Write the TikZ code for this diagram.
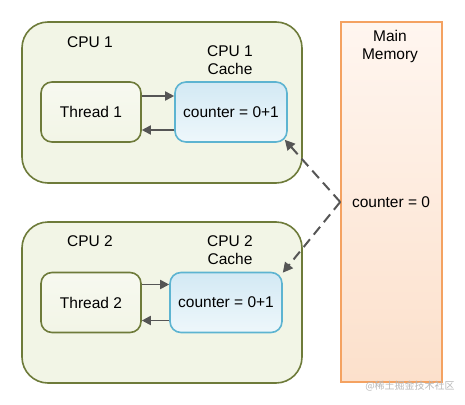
\documentclass[tikz,border=0pt]{standalone}
\usepackage{fontspec}
\setmainfont{Liberation Sans}
\newfontfamily\cjk{Noto Sans CJK SC}
\usetikzlibrary{arrows.meta,positioning,shapes}

\definecolor{cpuline}{HTML}{6E7B3A}
\definecolor{cpufill}{HTML}{F2F5E6}
\definecolor{cacheline}{HTML}{5DB4D1}
\definecolor{cachetop}{HTML}{D3E9F4}
\definecolor{cachebot}{HTML}{EEF7FB}
\definecolor{memline}{HTML}{F4A261}
\definecolor{memtop}{HTML}{FFF6F0}
\definecolor{membot}{HTML}{FCE0CB}
\definecolor{arrowgray}{HTML}{555555}

\tikzset{
  cpubox/.style={draw=cpuline, line width=1.6pt, fill=cpufill, rounded corners=26pt,
    minimum width=280pt, minimum height=161pt},
  threadbox/.style={draw=cpuline, line width=1.6pt, top color=cpufill!60!white, bottom color=cpufill,
    rounded corners=11pt, minimum width=100pt, minimum height=60pt},
  cachebox/.style={draw=cacheline, line width=1.6pt, top color=cachetop, bottom color=cachebot,
    rounded corners=11pt, minimum width=112pt, minimum height=60pt},
  membox/.style={draw=memline, line width=1.6pt, top color=memtop, bottom color=membot,
    minimum width=101pt, minimum height=360pt},
  label/.style={align=center, text=black},
  arrow/.style={draw=arrowgray, line width=1.8pt, -{Triangle[length=9pt,width=9pt]}},
  dasharrow/.style={draw=arrowgray, line width=2pt, dash pattern=on 10pt off 6pt,
    -{Triangle[length=10pt,width=10pt]}}
}

\begin{document}
\begin{tikzpicture}[x=1pt,y=-1pt,font=\fontsize{15.5}{18}\selectfont]
\useasboundingbox[fill=white] (0,0) rectangle (465,404);

% main memory
\node[membox] (mem) at (391.5,202) {};
\node[label] (memtitle) at (390,46) {Main\\Memory};
\node[label] (memval) at (391,202) {counter = 0};

% CPU 1
\node[cpubox] (cpu1) at (162,102.5) {};
\node[label] (cpu1title) at (90,42) {CPU 1};
\node[label] (cache1title) at (230,60) {CPU 1\\Cache};
\node[threadbox] (thread1) at (91,112) {Thread 1};
\node[cachebox] (cache1) at (231,112) {counter = 0+1};

% CPU 2
\node[cpubox] (cpu2) at (162,302.5) {};
\node[label] (cpu2title) at (90,241) {CPU 2};
\node[label] (cache2title) at (230,250) {CPU 2\\Cache};
\node[threadbox] (thread2) at (91,302.5) {Thread 2};
\node[cachebox] (cache2) at (226,302.5) {counter = 0+1};

% thread <-> cache
\draw[arrow] ([yshift=16pt]thread1.east) -- ([yshift=16pt]cache1.west);
\draw[arrow] ([yshift=-18pt]cache1.west) -- ([yshift=-18pt]thread1.east);
\draw[arrow] ([yshift=18pt]thread2.east) -- ([yshift=18pt]cache2.west);
\draw[arrow] ([yshift=-18pt]cache2.west) -- ([yshift=-18pt]thread2.east);

% memory -> caches
\coordinate (tip1) at ([shift={(-3,-3)}]cache1.south east);
\coordinate (tip2) at ([shift={(0,1)}]cache2.north east);
\draw[dasharrow] (mem.west) -- (tip1);
\draw[dasharrow] (mem.west) -- (tip2);

\node[text=gray!55, font=\cjk\fontsize{10}{12}\selectfont] (mark) at (410,386) {@稀土掘金技术社区};
\end{tikzpicture}
\end{document}
